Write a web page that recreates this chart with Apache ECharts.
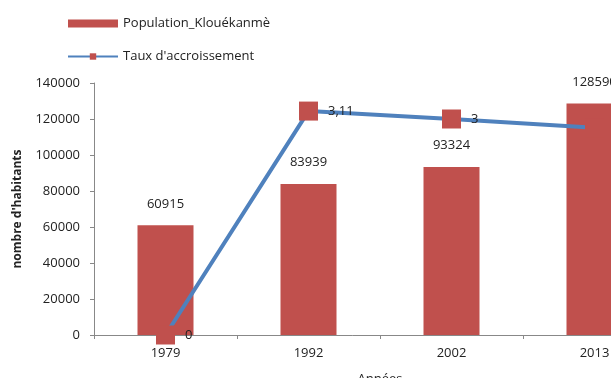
<!DOCTYPE html>
<html>
<head>
<meta charset="utf-8">
<script src="https://cdn.jsdelivr.net/npm/echarts@6/dist/echarts.min.js"></script>
<style>
  html, body { margin: 0; padding: 0; background: #fff; }
  #chart { width: 611px; height: 378px; }
</style>
</head>
<body>
<div id="chart"></div>
<script>
// data
const years = ['1979', '1992', '2002', '2013'];
const population = [60915, 83939, 93324, 128590];
const growth = [0, 3.11, 3, 2.88];
const yTicks = [0, 140000, 20000]; // min, max, step

const font = '"Open Sans", Lato, sans-serif';
const chart = echarts.init(document.getElementById('chart'));

chart.setOption({
  animation: false,
  textStyle: { fontFamily: font },
  legend: {
    orient: 'vertical',
    left: 62,
    top: 12,
    itemWidth: 50,
    itemHeight: 8,
    itemGap: 20,
    textStyle: { fontSize: 13, color: '#222', fontFamily: font },
    data: [
      { name: 'Population_Klouékanmè', icon: 'rect' },
      { name: "Taux d'accroissement" }
    ]
  },
  // the plot runs past the right edge of the picture
  grid: { left: 94, top: 83, height: 252, width: 572, outerBoundsMode: 'none', containLabel: false },
  xAxis: {
    type: 'category',
    data: years,
    name: 'Années',
    nameLocation: 'middle',
    nameGap: 38,
    nameTextStyle: { fontSize: 13, color: '#222' },
    axisLine: { lineStyle: { color: '#888' } },
    axisTick: { show: true, length: 4, lineStyle: { color: '#888' } },
    axisLabel: { fontSize: 13, color: '#222', margin: 12 }
  },
  yAxis: [
    {
      type: 'value',
      min: yTicks[0],
      max: yTicks[1],
      interval: yTicks[2],
      name: "nombre d'habitants",
      nameLocation: 'middle',
      nameGap: 70,
      nameTextStyle: { fontSize: 12, color: '#222', fontWeight: 'bold' },
      axisLine: { show: true, lineStyle: { color: '#888' } },
      axisTick: { show: true, length: 4, lineStyle: { color: '#888' } },
      splitLine: { show: false },
      axisLabel: { fontSize: 13, color: '#222', margin: 14, formatter: v => String(v) }
    },
    {
      type: 'value',
      min: 0,
      max: 3.5,
      show: false,
      splitLine: { show: false }
    }
  ],
  series: [
    {
      name: 'Population_Klouékanmè',
      type: 'bar',
      data: population,
      barWidth: 56,
      itemStyle: { color: '#c0504d' },
      label: {
        show: true,
        position: 'top',
        distance: 15,
        fontSize: 13,
        color: '#222'
      }
    },
    {
      name: "Taux d'accroissement",
      type: 'line',
      yAxisIndex: 1,
      data: growth,
      symbol: 'rect',
      symbolSize: 19,
      lineStyle: { color: '#4f81bd', width: 4 },
      itemStyle: { color: '#c0504d' },
      label: {
        show: true,
        position: 'right',
        distance: 10,
        fontSize: 13,
        color: '#222',
        formatter: p => String(p.value).replace('.', ',')
      }
    }
  ]
});
</script>
</body>
</html>
